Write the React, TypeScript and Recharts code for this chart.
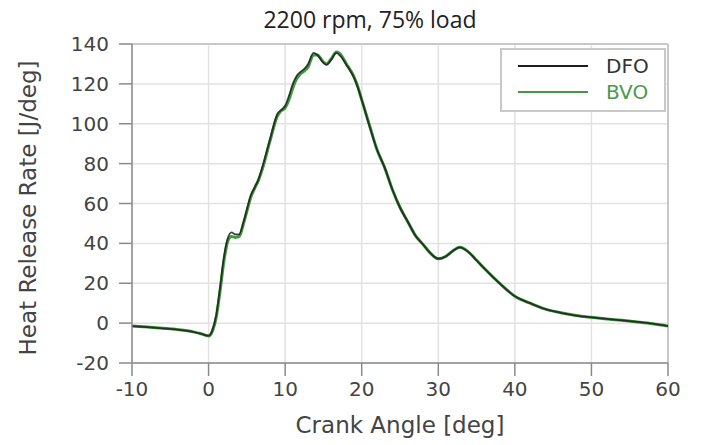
import React from 'react';
import {
  LineChart,
  Line,
  XAxis,
  YAxis,
  CartesianGrid,
  Legend,
  ReferenceLine
} from 'recharts';

// crank angle [deg]
const angles = [
  -10, -8, -6, -4, -2, -1, 0, 0.5, 1, 1.5, 2, 2.5, 3, 3.5, 4, 4.5, 5, 5.5, 6, 6.5, 7, 8, 9, 9.5,
  10, 10.5, 11, 11.5, 12, 12.5, 13, 13.7, 14.2, 15, 15.4, 16, 16.7, 17.2, 18, 19, 19.5, 20, 21, 22,
  23, 24, 25, 26, 27, 28, 29, 30, 31, 32, 32.8, 34, 35, 36, 38, 40, 42, 44, 46, 48, 50, 52, 54,
  56, 58, 60
];

// heat release rate [J/deg]
const dfo = [
  -1.5, -2, -2.6, -3.3, -4.4, -5.3, -6.3, -3.5, 4, 18, 33, 42.5, 45.5, 44.5, 44.5, 50, 57, 64, 68,
  72, 78, 92, 105, 107, 109, 114, 120, 124, 126, 127.5, 130, 135.5, 134.5, 130.5, 129.5, 132, 135.5,
  134, 129.5, 123, 118, 112, 99, 87, 78, 67, 58, 51, 44, 39.5, 35, 32.3, 33.5, 36.5, 38, 35.5, 31.5,
  27.5, 20, 13.5, 10, 7, 5.2, 3.8, 2.9, 2.1, 1.4, 0.6, -0.3, -1.5
];

const bvo = [
  -1.5, -2, -2.6, -3.3, -4.4, -5.3, -6.5, -4, 3, 16, 31, 41, 43.5, 43, 43.5, 49, 56, 63, 67.5,
  71.5, 77, 91, 104, 106.5, 108, 112, 118, 122.5, 125, 126.5, 128.5, 134.5, 134.5, 131, 130, 132.5,
  136, 135, 130, 123.5, 118.5, 112, 99.5, 87, 78, 67, 58, 51, 44, 39.5, 35, 32.3, 33.5, 36.5, 38,
  35.5, 31.5, 27.5, 20, 13.5, 10, 7, 5.2, 3.8, 2.9, 2.1, 1.4, 0.6, -0.3, -1.5
];

const xTicks = [-10, 0, 10, 20, 30, 40, 50, 60];
const yTicks = [-20, 0, 20, 40, 60, 80, 100, 120, 140];

const data = angles.map((a, i) => ({ angle: a, DFO: dfo[i], BVO: bvo[i] }));

const FONT = '"DejaVu Sans", sans-serif';

const XTitle = (props: any) => {
  const vb = props.viewBox || { x: 0, y: 0, width: 0 };
  return (
    <text
      x={vb.x + vb.width / 2}
      y={vb.y + 70}
      textAnchor="middle"
      fontSize={23}
      fill="#444"
      fontFamily={FONT}
    >
      Crank Angle [deg]
    </text>
  );
};

const YTitle = () => (
  <text
    x={20}
    y={200}
    transform="rotate(-90, 20, 200)"
    textAnchor="middle"
    dominantBaseline="central"
    fontSize={23}
    fill="#444"
    fontFamily={FONT}
  >
    Heat Release Rate [J/deg]
  </text>
);

const legendText: Record<string, string> = { DFO: '#333', BVO: '#4a9a4a' };

const LegendBox = (props: any) => {
  const items = (props.payload || []).slice().reverse();
  return (
    <div
      style={{
        width: 162,
        height: 57,
        border: '2px solid #c8c8c8',
        background: '#fff',
        fontFamily: FONT,
        fontSize: 20,
        paddingTop: 3
      }}
    >
      {items.map((p: any) => (
        <div key={p.value} style={{ display: 'flex', alignItems: 'center', height: 26 }}>
          <svg width={88} height={10} style={{ marginLeft: 16 }}>
            <line x1={0} y1={5} x2={70} y2={5} stroke={p.color} strokeWidth={2} />
          </svg>
          <span style={{ color: legendText[p.value] }}>{p.value}</span>
        </div>
      ))}
    </div>
  );
};

export default function App() {
  return (
    <div style={{ position: 'relative', width: 693, height: 437, fontFamily: FONT }}>
      <div
        style={{
          position: 'absolute',
          left: 212,
          top: 0,
          width: 300,
          textAlign: 'center',
          fontFamily: '"Open Sans", sans-serif',
          fontSize: 23,
          lineHeight: '23px',
          color: '#222',
          zIndex: 2
        }}
      >
        2200 rpm, 75% load
      </div>
      <LineChart
        width={693}
        height={437}
        data={data}
        margin={{ top: 36, right: 33, left: 0, bottom: 22 }}
      >
        <CartesianGrid stroke="#e2e2e2" strokeWidth={1.5} />
        <ReferenceLine y={140} stroke="#c8c8c8" strokeWidth={2} />
        <ReferenceLine x={60} stroke="#c8c8c8" strokeWidth={2} />
        <XAxis
          dataKey="angle"
          type="number"
          domain={[-10, 60]}
          ticks={xTicks}
          height={60}
          tickSize={13}
          tickMargin={6}
          stroke="#8a8a8a"
          strokeWidth={1.5}
          tick={{ fontSize: 20, fill: '#444', fontFamily: FONT }}
          label={<XTitle />}
        />
        <YAxis
          type="number"
          domain={[-20, 140]}
          ticks={yTicks}
          width={124}
          tickSize={13}
          tickMargin={10}
          stroke="#8a8a8a"
          strokeWidth={1.5}
          tick={{ fontSize: 20, fill: '#444', fontFamily: FONT }}
          label={<YTitle />}
        />
        <Legend
          layout="horizontal"
          verticalAlign="middle"
          align="center"
          content={<LegendBox />}
          wrapperStyle={{ left: 492, top: 40, width: 166 }}
        />
        <Line
          type="monotone"
          dataKey="BVO"
          stroke="#3f9a3f"
          strokeWidth={3}
          dot={false}
          isAnimationActive={false}
        />
        <Line
          type="monotone"
          dataKey="DFO"
          stroke="#1e1e1e"
          strokeWidth={1.8}
          strokeOpacity={0.85}
          dot={false}
          isAnimationActive={false}
        />
      </LineChart>
    </div>
  );
}
